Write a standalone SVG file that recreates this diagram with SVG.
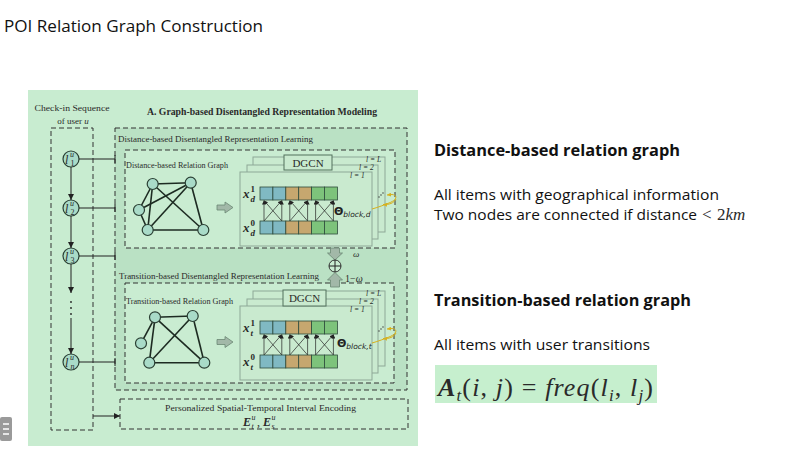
<svg xmlns="http://www.w3.org/2000/svg" xmlns:xlink="http://www.w3.org/1999/xlink" width="808" height="452" viewBox="0 0 808 452">
<style>
.ser{font-family:"Liberation Serif","DejaVu Serif",serif;fill:#2a2a2a}
.sans{font-family:"Open Sans","Noto Sans",sans-serif;fill:#111}
.dash{fill:none;stroke:#333;stroke-width:1;stroke-dasharray:5 3}
.ln{stroke:#222;stroke-width:1;fill:none}
.gn{fill:#a9dbc8;stroke:#2a3f33;stroke-width:1.2}
.ge{stroke:#1d2b22;stroke-width:1.6}
.lay{fill:#c9eacf;stroke:#8ea897;stroke-width:1}
.cell{stroke:#2d4b3c;stroke-width:0.8}
.c1{fill:#80b9c3}.c2{fill:#c6a76f}.c3{fill:#7dc37b}
.lk{stroke:#222;stroke-width:0.7;fill:none}
.fat{fill:#a2b8a8;stroke:#6b8873;stroke-width:0.8}
.yl{fill:none;stroke:#d6b11d;stroke-width:1}
.lv{font-size:7.5px;font-style:italic}
</style>
<defs>
<marker id="ah" viewBox="0 0 6 6" refX="6" refY="3" markerWidth="6" markerHeight="6" orient="auto" markerUnits="userSpaceOnUse"><path d="M0,0 L6,3 L0,6 z" fill="#222"/></marker>
<marker id="ahs" viewBox="0 0 6 6" refX="6" refY="3" markerWidth="4" markerHeight="4" orient="auto" markerUnits="userSpaceOnUse"><path d="M0,0 L6,3 L0,6 z" fill="#222"/></marker>
<marker id="ahy" viewBox="0 0 6 6" refX="6" refY="3" markerWidth="4" markerHeight="4" orient="auto" markerUnits="userSpaceOnUse"><path d="M0,0 L6,3 L0,6 z" fill="#d6b11d"/></marker>
<g id="row">
<rect class="cell c1" x="0" y="0" width="12.9" height="13"/>
<rect class="cell c1" x="12.9" y="0" width="12.9" height="13"/>
<rect class="cell c2" x="25.8" y="0" width="12.9" height="13"/>
<rect class="cell c2" x="38.7" y="0" width="12.9" height="13"/>
<rect class="cell c3" x="51.6" y="0" width="12.9" height="13"/>
<rect class="cell c3" x="64.5" y="0" width="12.9" height="13"/>
</g>
<g id="pair">
<line class="lk" x1="4" y1="34" x2="4" y2="13.5" marker-end="url(#ahs)"/>
<line class="lk" x1="21.8" y1="34" x2="21.8" y2="13.5" marker-end="url(#ahs)"/>
<line class="lk" x1="4" y1="34" x2="21.8" y2="13.5" marker-end="url(#ahs)"/>
<line class="lk" x1="21.8" y1="34" x2="4" y2="13.5" marker-end="url(#ahs)"/>
</g>
<g id="blk">
<use xlink:href="#pair" x="0"/>
<use xlink:href="#pair" x="25.8"/>
<use xlink:href="#pair" x="51.6"/>
<use xlink:href="#row" y="0"/>
<use xlink:href="#row" y="34"/>
</g>
<g id="stack">
<rect class="lay" x="13" y="0" width="132" height="75"/>
<rect class="lay" x="7" y="8" width="131" height="74"/>
<rect class="lay" x="0" y="15" width="132" height="74"/>
</g>
</defs>

<rect x="0" y="0" width="808" height="452" fill="#ffffff"/>
<text class="sans" x="4" y="32" font-size="17" textLength="259" lengthAdjust="spacingAndGlyphs">POI Relation Graph Construction</text>

<!-- figure panel -->
<rect x="28" y="90" width="390" height="356" fill="#c8ecd0"/>
<rect x="115" y="128" width="292" height="262" fill="#bae1c4"/>
<rect x="125" y="150" width="270" height="98" fill="#c9ecd1"/>
<rect x="125" y="283" width="269" height="100" fill="#c9ecd1"/>

<text class="ser" x="72" y="111" font-size="9" text-anchor="middle" textLength="75" lengthAdjust="spacingAndGlyphs">Check-in Sequence</text>
<text class="ser" x="73" y="124" font-size="9" text-anchor="middle">of user <tspan font-style="italic">u</tspan></text>
<text class="ser" x="147" y="115" font-size="9.5" font-weight="bold" textLength="230" lengthAdjust="spacingAndGlyphs">A. Graph-based Disentangled Representation Modeling</text>

<!-- frames -->
<g id="frames">
<rect class="dash" x="51" y="128" width="42" height="302"/>
<rect class="dash" x="115" y="128" width="292" height="262"/>
<rect class="dash" x="125" y="150" width="270" height="98"/>
<rect class="dash" x="125" y="283" width="269" height="100"/>
<rect class="dash" x="120" y="399" width="288" height="30"/>
</g>

<text class="ser" x="118" y="142" font-size="8.5" textLength="195" lengthAdjust="spacingAndGlyphs">Distance-based Disentangled Representation Learning</text>
<text class="ser" x="126" y="168" font-size="7.5" textLength="102" lengthAdjust="spacingAndGlyphs">Distance-based Relation Graph</text>
<text class="ser" x="119" y="279" font-size="8.5" textLength="200" lengthAdjust="spacingAndGlyphs">Transition-based Disentangled Representation Learning</text>
<text class="ser" x="126" y="304" font-size="7.5" textLength="107" lengthAdjust="spacingAndGlyphs">Transition-based Relation Graph</text>

<!-- check-in sequence nodes -->
<g id="l1"><circle class="gn" cx="71" cy="159" r="8"/><text class="ser" font-size="12" font-style="italic"><tspan x="65" y="163.5">l</tspan><tspan x="70" y="157" font-size="8">u</tspan><tspan x="70.5" y="166" font-size="8" font-style="normal">1</tspan></text></g>
<g id="l2"><circle class="gn" cx="71" cy="208" r="8"/><text class="ser" font-size="12" font-style="italic"><tspan x="65" y="212.5">l</tspan><tspan x="70" y="206" font-size="8">u</tspan><tspan x="70.5" y="215" font-size="8" font-style="normal">2</tspan></text></g>
<g id="l3"><circle class="gn" cx="71" cy="256" r="8"/><text class="ser" font-size="12" font-style="italic"><tspan x="65" y="260.5">l</tspan><tspan x="70" y="254" font-size="8">u</tspan><tspan x="70.5" y="263" font-size="8" font-style="normal">3</tspan></text></g>
<g id="ln"><circle class="gn" cx="71" cy="362" r="8"/><text class="ser" font-size="12" font-style="italic"><tspan x="65" y="366.5">l</tspan><tspan x="70" y="360" font-size="8">u</tspan><tspan x="70.5" y="369" font-size="8">n</tspan></text></g>

<!-- connectors -->
<g id="connectors">
<line class="ln" x1="71" y1="167" x2="71" y2="200" marker-end="url(#ah)"/>
<line class="ln" x1="71" y1="216" x2="71" y2="248" marker-end="url(#ah)"/>
<line class="ln" x1="71" y1="264" x2="71" y2="293" marker-end="url(#ah)"/>
<circle cx="71" cy="302" r="0.9" fill="#222"/>
<circle cx="71" cy="308" r="0.9" fill="#222"/>
<circle cx="71" cy="314" r="0.9" fill="#222"/>
<line class="ln" x1="71" y1="318" x2="71" y2="354" marker-end="url(#ah)"/>
<path class="ln" d="M79,159 H115 M115,155 V163"/>
<path class="ln" d="M79,208 H115 M115,204 V212"/>
<path class="ln" d="M79,256 H115 M115,252 V260"/>
<path class="ln" d="M79,362 H115 M115,358 V366"/>
<line class="ln" x1="93" y1="416" x2="120" y2="416" marker-end="url(#ah)"/>
<polygon class="fat" points="217,205 225,205 225,202 233,207.5 225,213 225,210 217,210"/>
<polygon class="fat" points="217,339.5 225,339.5 225,336.5 233,342 225,347.5 225,344.5 217,344.5"/>
<polygon class="fat" points="330.5,248 339.5,248 339.5,253 342.5,253 335,260 327.5,253 330.5,253"/>
<polygon class="fat" points="330.5,287 339.5,287 339.5,280 342.5,280 335,272.5 327.5,280 330.5,280"/>
</g>

<!-- distance-based relation graph -->
<g id="dgraph">
<g class="ge">
<line x1="152.7" y1="184" x2="190.7" y2="182.7"/>
<line x1="152.7" y1="184" x2="139" y2="210"/>
<line x1="152.7" y1="184" x2="147.7" y2="230"/>
<line x1="152.7" y1="184" x2="203.3" y2="230"/>
<line x1="190.7" y1="182.7" x2="139" y2="210"/>
<line x1="190.7" y1="182.7" x2="147.7" y2="230"/>
<line x1="190.7" y1="182.7" x2="203.3" y2="230"/>
<line x1="139" y1="210" x2="147.7" y2="230"/>
<line x1="147.7" y1="230" x2="203.3" y2="230"/>
</g>
<circle class="gn" cx="152.7" cy="184" r="5.5"/>
<circle class="gn" cx="190.7" cy="182.7" r="5.5"/>
<circle class="gn" cx="139" cy="210" r="5.5"/>
<circle class="gn" cx="147.7" cy="230" r="5.5"/>
<circle class="gn" cx="203.3" cy="230" r="5.5"/>
</g>

<!-- transition-based relation graph -->
<g id="tgraph">
<g class="ge">
<line x1="155" y1="317.3" x2="192.7" y2="316"/>
<line x1="155" y1="317.3" x2="141" y2="343.3"/>
<line x1="155" y1="317.3" x2="149.3" y2="362.7"/>
<line x1="155" y1="317.3" x2="204.3" y2="362.7"/>
<line x1="192.7" y1="316" x2="149.3" y2="362.7"/>
<line x1="192.7" y1="316" x2="204.3" y2="362.7"/>
<line x1="149.3" y1="362.7" x2="204.3" y2="362.7"/>
</g>
<circle class="gn" cx="155" cy="317.3" r="5.5"/>
<circle class="gn" cx="192.7" cy="316" r="5.5"/>
<circle class="gn" cx="141" cy="343.3" r="5.5"/>
<circle class="gn" cx="149.3" cy="362.7" r="5.5"/>
<circle class="gn" cx="204.3" cy="362.7" r="5.5"/>
</g>

<!-- distance DGCN stack -->
<g id="dstack">
<use xlink:href="#stack" x="240" y="157"/>
<rect x="284" y="155" width="48" height="15" fill="#c9eacf" stroke="#52705c" stroke-width="1"/>
<text class="ser" x="308" y="166.5" font-size="11" text-anchor="middle">DGCN</text>
<text class="ser lv" x="366" y="162">l = L</text>
<text class="ser lv" x="359" y="170">l = 2</text>
<text class="ser lv" x="350" y="178">l = 1</text>
<use xlink:href="#blk" x="260" y="187"/>
<text class="ser" font-size="13" font-weight="bold" font-style="italic"><tspan x="243" y="198">x</tspan><tspan x="250.5" y="191.5" font-size="9" font-style="normal">1</tspan><tspan x="250.5" y="201.5" font-size="9">d</tspan></text>
<text class="ser" font-size="13" font-weight="bold" font-style="italic"><tspan x="243" y="232">x</tspan><tspan x="250.5" y="225.5" font-size="9" font-style="normal">0</tspan><tspan x="250.5" y="235.5" font-size="9">d</tspan></text>
<text font-family="'DejaVu Sans',sans-serif" fill="#222" font-size="11" font-weight="bold" x="334" y="215">Θ<tspan font-size="7.5" font-weight="normal" font-style="italic" dy="2">block,d</tspan></text>
<circle cx="379" cy="197" r="0.7" fill="#333"/><circle cx="381" cy="195" r="0.7" fill="#333"/><circle cx="383" cy="193" r="0.7" fill="#333"/>
<path class="yl" d="M372,209 C379,207 384,205 389,203 C397,200 398,195 392,194.5 L387,195" marker-end="url(#ahy)"/>
<path class="yl" d="M396,199 C394,203 389,205 383,204.5" marker-end="url(#ahy)"/>
</g>

<!-- mixing of both branches -->
<g id="mix">
<circle cx="335" cy="266" r="6" fill="#c9ecd1" stroke="#333" stroke-width="1"/>
<path class="ln" d="M329,266 H341 M335,260 V272"/>
<text class="ser" x="353" y="257" font-size="9" font-style="italic">ω</text>
<text class="ser" x="345" y="282" font-size="10">1−<tspan font-style="italic">ω</tspan></text>
</g>

<!-- transition DGCN stack -->
<g id="tstack">
<use xlink:href="#stack" x="240" y="291"/>
<rect x="283" y="290" width="43" height="16" fill="#c9eacf" stroke="#52705c" stroke-width="1"/>
<text class="ser" x="304.5" y="302" font-size="11" text-anchor="middle">DGCN</text>
<text class="ser lv" x="366" y="296">l = L</text>
<text class="ser lv" x="359" y="304">l = 2</text>
<text class="ser lv" x="350" y="312">l = 1</text>
<use xlink:href="#blk" x="260" y="321"/>
<text class="ser" font-size="13" font-weight="bold" font-style="italic"><tspan x="243" y="332">x</tspan><tspan x="250.5" y="325.5" font-size="9" font-style="normal">1</tspan><tspan x="250.5" y="335.5" font-size="9">t</tspan></text>
<text class="ser" font-size="13" font-weight="bold" font-style="italic"><tspan x="243" y="366">x</tspan><tspan x="250.5" y="359.5" font-size="9" font-style="normal">0</tspan><tspan x="250.5" y="369.5" font-size="9">t</tspan></text>
<text font-family="'DejaVu Sans',sans-serif" fill="#222" font-size="11" font-weight="bold" x="337" y="347">Θ<tspan font-size="7.5" font-weight="normal" font-style="italic" dy="2">block,t</tspan></text>
<circle cx="379" cy="331" r="0.7" fill="#333"/><circle cx="381" cy="329" r="0.7" fill="#333"/><circle cx="383" cy="327" r="0.7" fill="#333"/>
<path class="yl" d="M372,343 C379,341 384,339 389,337 C397,334 398,329 392,328.5 L387,329" marker-end="url(#ahy)"/>
<path class="yl" d="M396,333 C394,337 389,339 383,338.5" marker-end="url(#ahy)"/>
</g>

<!-- interval encoding -->
<g id="enc">
<text class="ser" x="165" y="411" font-size="9" textLength="191" lengthAdjust="spacingAndGlyphs">Personalized Spatial-Temporal Interval Encoding</text>
<text class="ser" font-size="12" font-weight="bold" font-style="italic"><tspan x="243" y="426">E</tspan><tspan x="251.5" y="419.5" font-size="8" font-weight="normal">u</tspan><tspan x="251.5" y="428.5" font-size="8" font-weight="normal">t</tspan><tspan x="257" y="426" font-weight="normal" font-style="normal">,</tspan><tspan x="263" y="426">E</tspan><tspan x="271.5" y="419.5" font-size="8" font-weight="normal">u</tspan><tspan x="271.5" y="428.5" font-size="8" font-weight="normal">s</tspan></text>
</g>

<!-- right-hand notes -->
<text class="sans" x="434" y="156" font-size="16" font-weight="bold" textLength="246" lengthAdjust="spacingAndGlyphs">Distance-based relation graph</text>
<text class="sans" x="434" y="200" font-size="14.5" textLength="285" lengthAdjust="spacingAndGlyphs">All items with geographical information</text>
<text class="sans" x="434" y="220" font-size="14.5" textLength="263" lengthAdjust="spacingAndGlyphs">Two nodes are connected if distance</text>
<text class="ser" x="702" y="220" font-size="17" fill="#111">&lt;</text>
<text class="ser" x="717" y="220" font-size="17" fill="#111">2<tspan font-style="italic">km</tspan></text>
<text class="sans" x="434" y="306" font-size="16" font-weight="bold" textLength="257" lengthAdjust="spacingAndGlyphs">Transition-based relation graph</text>
<text class="sans" x="434" y="350" font-size="14.5" textLength="216" lengthAdjust="spacingAndGlyphs">All items with user transitions</text>
<rect x="435" y="365" width="222" height="38" fill="#c6efce"/>
<text class="ser" x="438" y="396" font-size="26" fill="#111" textLength="215" lengthAdjust="spacing"><tspan font-weight="bold" font-style="italic">A</tspan><tspan font-style="italic" font-size="17" dy="5">t</tspan><tspan dy="-5">(</tspan><tspan font-style="italic">i</tspan>, <tspan font-style="italic">j</tspan>) = <tspan font-style="italic">freq</tspan>(<tspan font-style="italic">l</tspan><tspan font-style="italic" font-size="17" dy="5">i</tspan><tspan dy="-5">, </tspan><tspan font-style="italic">l</tspan><tspan font-style="italic" font-size="17" dy="5">j</tspan><tspan dy="-5">)</tspan></text>

<!-- page menu handle -->
<g id="handle">
<rect x="0" y="417" width="12" height="24" rx="2" fill="#9a9a9a"/>
<path d="M3,424 H9 M3,429 H9 M3,434 H9" stroke="#ffffff" stroke-width="1.5"/>
</g>
</svg>
